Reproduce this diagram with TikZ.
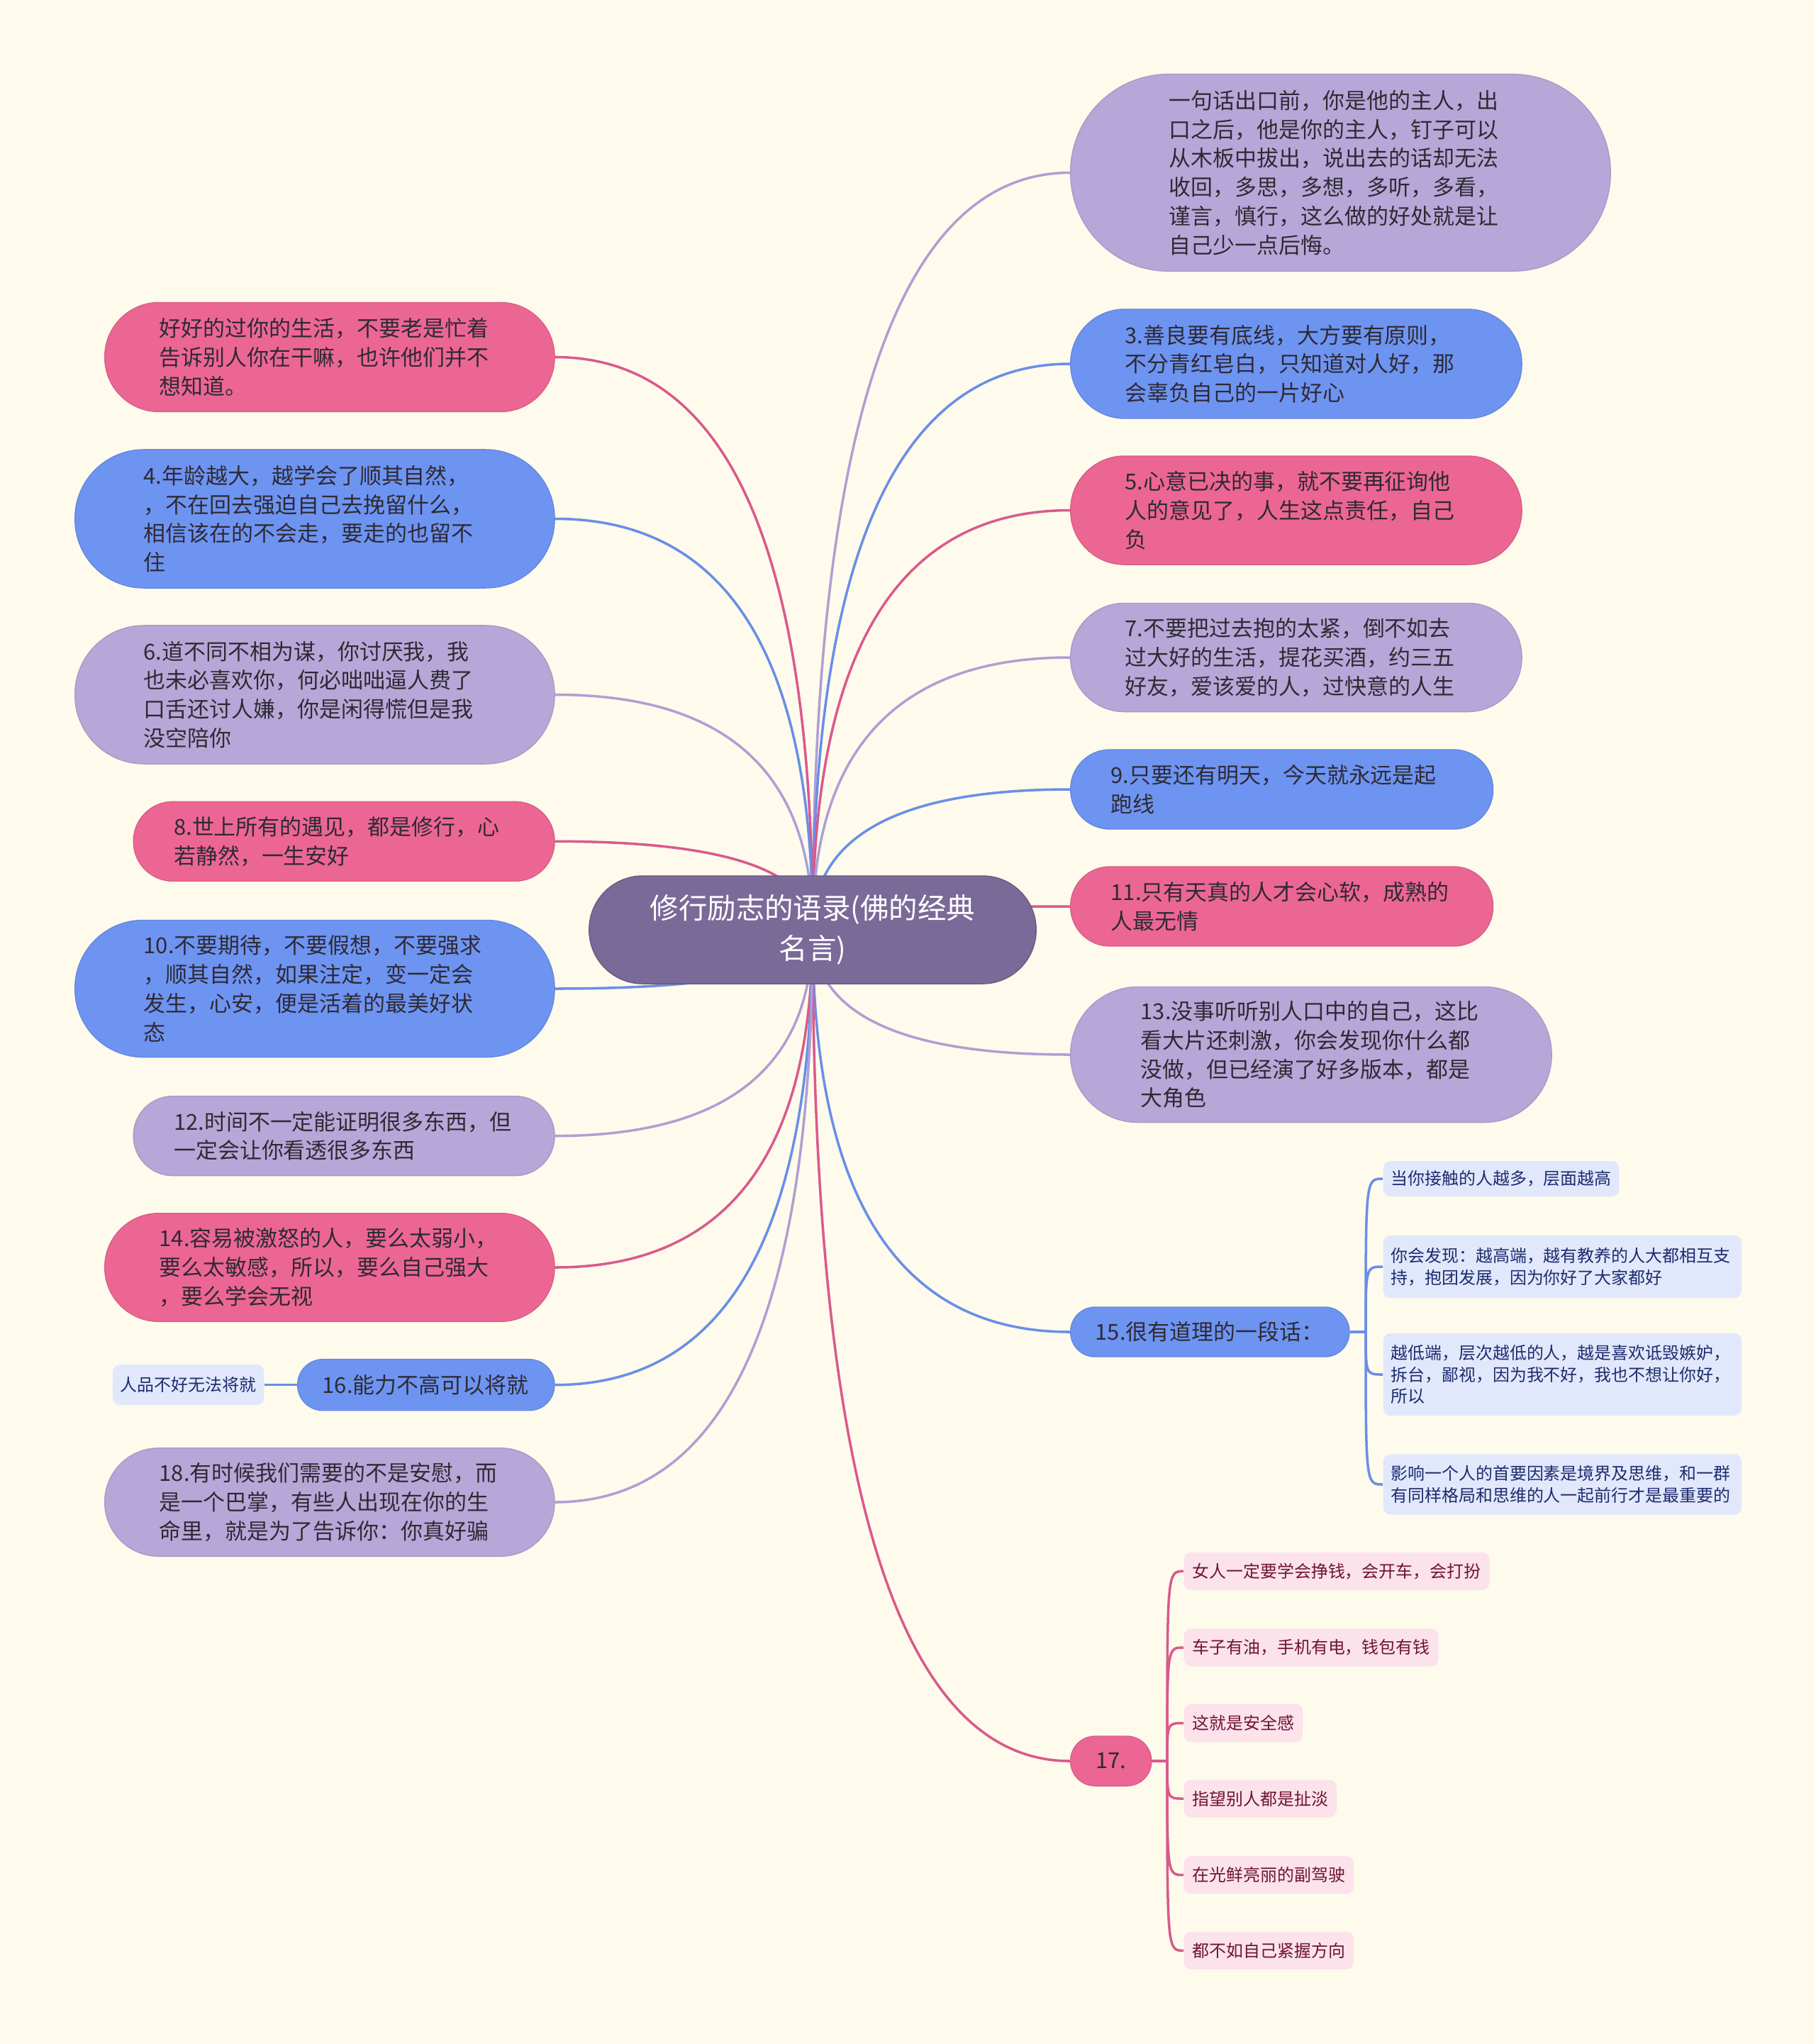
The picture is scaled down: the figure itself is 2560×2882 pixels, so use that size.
\documentclass[tikz,border=0pt]{standalone}
\usepackage{fontspec}
\setmainfont{Noto Sans CJK SC}
\usetikzlibrary{calc}
\definecolor{bgc}{HTML}{FFFBEC}
\definecolor{pinkc}{HTML}{EC6694}
\definecolor{bluec}{HTML}{6E94F2}
\definecolor{lavc}{HTML}{B7A7D8}
\definecolor{ctrc}{HTML}{7A6A98}
\definecolor{pinkl}{HTML}{D95A8C}
\definecolor{bluel}{HTML}{6A8EE8}
\definecolor{lavl}{HTML}{AE9FD3}
\definecolor{txtc}{HTML}{2E2A33}
\definecolor{cfill}{HTML}{E1E8FB}
\definecolor{ctext}{HTML}{1E2C6E}
\definecolor{dfill}{HTML}{FBE2EB}
\definecolor{dtext}{HTML}{6E1434}
\newcommand{\fmainsz}{\fontsize{8.8pt}{11.6pt}\selectfont}
\newcommand{\fctrsz}{\fontsize{11.5pt}{16.2pt}\selectfont}
\newcommand{\fsubsz}{\fontsize{6.8pt}{8.7pt}\selectfont}
\pgfdeclarelayer{back}
\pgfdeclarelayer{lines}
\pgfsetlayers{back,lines,main}
\tikzset{
  mainnode/.style={rectangle, inner ysep=0pt, align=left, text=txtc, font=\fmainsz, anchor=west, line width=0.4pt},
  pinkn/.style={mainnode, fill=pinkc, draw=pinkc!92!black},
  bluen/.style={mainnode, fill=bluec, draw=bluec!92!black},
  lavn/.style={mainnode, fill=lavc, draw=lavc!92!black},
  ctrnode/.style={rectangle, fill=ctrc, draw=ctrc!85!black, line width=0.4pt, text=white, font=\fctrsz, align=center, minimum width=6.30cm, minimum height=1.52cm, rounded corners=0.755cm, inner sep=0pt},
  cnode/.style={rectangle, fill=cfill, text=ctext, font=\fsubsz, rounded corners=0.1cm, anchor=west, inner xsep=0.11cm, inner ysep=0pt, align=left},
  dnode/.style={rectangle, fill=dfill, text=dtext, font=\fsubsz, rounded corners=0.1cm, anchor=west, inner xsep=0.12cm, inner ysep=0pt, minimum height=0.53cm},
  conn/.style={line width=1pt},
  qc/.style={to path={.. controls ($(\tikztostart)!0.6667!(\tikztostart |- \tikztotarget)$) and ($(\tikztotarget)!0.6667!(\tikztostart |- \tikztotarget)$) .. (\tikztotarget)}},
  bc/.style={to path={.. controls (\tikztostart |- \tikztotarget) .. (\tikztotarget)}}
}
\begin{document}
\begin{tikzpicture}[x=0.01cm, y=-0.01cm]
\useasboundingbox (0,0) rectangle (2560,2882);
\begin{pgfonlayer}{back}
\fill[bgc] (0,0) rectangle (2560,2882);
\end{pgfonlayer}

% central node
\node[ctrnode] (ctr) at (1146,1311) {修行励志的语录(佛的经典\\名言)};

% right side
\node[lavn, minimum width=7.61cm, minimum height=2.775cm, text width=4.83cm, inner xsep=1.39cm, rounded corners=1.38cm] (R1) at (1509,243.5)
 {一句话出口前，你是他的主人，出\\口之后，他是你的主人，钉子可以\\从木板中拔出，说出去的话却无法\\收回，多思，多想，多听，多看，\\谨言，慎行，这么做的好处就是让\\自己少一点后悔。};
\node[bluen, minimum width=6.36cm, minimum height=1.54cm, text width=4.82cm, inner xsep=0.77cm, rounded corners=0.765cm] (R2) at (1509,513)
 {3.善良要有底线，大方要有原则，\\不分青红皂白，只知道对人好，那\\会辜负自己的一片好心};
\node[pinkn, minimum width=6.36cm, minimum height=1.53cm, text width=4.82cm, inner xsep=0.77cm, rounded corners=0.76cm] (R3) at (1509,719.5)
 {5.心意已决的事，就不要再征询他\\人的意见了，人生这点责任，自己\\负};
\node[lavn, minimum width=6.36cm, minimum height=1.53cm, text width=4.82cm, inner xsep=0.77cm, rounded corners=0.76cm] (R4) at (1509,927)
 {7.不要把过去抱的太紧，倒不如去\\过大好的生活，提花买酒，约三五\\好友，爱该爱的人，过快意的人生};
\node[bluen, minimum width=5.955cm, minimum height=1.12cm, text width=4.815cm, inner xsep=0.57cm, rounded corners=0.555cm] (R5) at (1509,1113)
 {9.只要还有明天，今天就永远是起\\跑线};
\node[pinkn, minimum width=5.955cm, minimum height=1.12cm, text width=4.815cm, inner xsep=0.57cm, rounded corners=0.555cm] (R6) at (1509,1278)
 {11.只有天真的人才会心软，成熟的\\人最无情};
\node[lavn, minimum width=6.78cm, minimum height=1.91cm, text width=4.80cm, inner xsep=0.99cm, rounded corners=0.95cm] (R7) at (1509,1487)
 {13.没事听听别人口中的自己，这比\\看大片还刺激，你会发现你什么都\\没做，但已经演了好多版本，都是\\大角色};
\node[bluen, minimum width=3.93cm, minimum height=0.70cm, text width=3.23cm, inner xsep=0.35cm, rounded corners=0.345cm] (R8) at (1509,1878)
 {15.很有道理的一段话：};
\node[pinkn, align=center, minimum width=1.14cm, minimum height=0.70cm, inner xsep=0pt, rounded corners=0.345cm] (R9) at (1509,2483) {17.};

% left side
\node[pinkn, minimum width=6.34cm, minimum height=1.54cm, text width=4.80cm, inner xsep=0.77cm, rounded corners=0.765cm] (L1) at (147,503.5)
 {好好的过你的生活，不要老是忙着\\告诉别人你在干嘛，也许他们并不\\想知道。};
\node[bluen, minimum width=6.76cm, minimum height=1.95cm, text width=4.82cm, inner xsep=0.97cm, rounded corners=0.97cm] (L2) at (105,731.5)
 {4.年龄越大，越学会了顺其自然，\\，不在回去强迫自己去挽留什么，\\相信该在的不会走，要走的也留不\\住};
\node[lavn, minimum width=6.76cm, minimum height=1.95cm, text width=4.82cm, inner xsep=0.97cm, rounded corners=0.97cm] (L3) at (105,979.5)
 {6.道不同不相为谋，你讨厌我，我\\也未必喜欢你，何必咄咄逼人费了\\口舌还讨人嫌，你是闲得慌但是我\\没空陪你};
\node[pinkn, minimum width=5.935cm, minimum height=1.12cm, text width=4.795cm, inner xsep=0.57cm, rounded corners=0.555cm] (L4) at (187.5,1186.3)
 {8.世上所有的遇见，都是修行，心\\若静然，一生安好};
\node[bluen, minimum width=6.76cm, minimum height=1.93cm, text width=4.82cm, inner xsep=0.97cm, rounded corners=0.96cm] (L5) at (105,1394)
 {10.不要期待，不要假想，不要强求\\，顺其自然，如果注定，变一定会\\发生，心安，便是活着的最美好状\\态};
\node[lavn, minimum width=5.935cm, minimum height=1.12cm, text width=4.795cm, inner xsep=0.57cm, rounded corners=0.555cm] (L6) at (187.5,1601.6)
 {12.时间不一定能证明很多东西，但\\一定会让你看透很多东西};
\node[pinkn, minimum width=6.34cm, minimum height=1.525cm, text width=4.80cm, inner xsep=0.77cm, rounded corners=0.76cm] (L7) at (147,1787)
 {14.容易被激怒的人，要么太弱小，\\要么太敏感，所以，要么自己强大\\，要么学会无视};
\node[bluen, minimum width=3.62cm, minimum height=0.72cm, text width=2.92cm, inner xsep=0.35cm, rounded corners=0.355cm] (L8) at (419,1952.7)
 {16.能力不高可以将就};
\node[cnode, anchor=east, minimum height=0.57cm] (L8c) at (373,1952.7) {人品不好无法将就};
\node[lavn, minimum width=6.34cm, minimum height=1.525cm, text width=4.80cm, inner xsep=0.77cm, rounded corners=0.76cm] (L9) at (147,2118)
 {18.有时候我们需要的不是安慰，而\\是一个巴掌，有些人出现在你的生\\命里，就是为了告诉你：你真好骗};

% children of 15
\node[cnode, minimum height=0.50cm] (c1) at (1950,1662) {当你接触的人越多，层面越高};
\node[cnode, minimum height=0.88cm, text width=4.83cm] (c2) at (1950,1786)
 {你会发现：越高端，越有教养的人大都相互支\\持，抱团发展，因为你好了大家都好};
\node[cnode, minimum height=1.16cm, text width=4.83cm] (c3) at (1950,1938)
 {越低端，层次越低的人，越是喜欢诋毁嫉妒，\\拆台，鄙视，因为我不好，我也不想让你好，\\所以};
\node[cnode, minimum height=0.85cm, text width=4.83cm] (c4) at (1950,2093)
 {影响一个人的首要因素是境界及思维，和一群\\有同样格局和思维的人一起前行才是最重要的};

% children of 17
\node[dnode] (d1) at (1669,2215.4) {女人一定要学会挣钱，会开车，会打扮};
\node[dnode] (d2) at (1669,2323) {车子有油，手机有电，钱包有钱};
\node[dnode] (d3) at (1669,2429.5) {这就是安全感};
\node[dnode] (d4) at (1669,2536) {指望别人都是扯淡};
\node[dnode] (d5) at (1669,2643.7) {在光鲜亮丽的副驾驶};
\node[dnode] (d6) at (1669,2750.3) {都不如自己紧握方向};

\coordinate (J1) at (1926,1878);
\coordinate (J2) at (1646,2483);

\begin{pgfonlayer}{lines}
% center to right
\draw[conn, lavl]  (ctr.center) to[qc] (R1.west);
\draw[conn, bluel] (ctr.center) to[qc] (R2.west);
\draw[conn, pinkl] (ctr.center) to[qc] (R3.west);
\draw[conn, lavl]  (ctr.center) to[qc] (R4.west);
\draw[conn, bluel] (ctr.center) to[qc] (R5.west);
\draw[conn, pinkl] (ctr.center) to[qc] (R6.west);
\draw[conn, lavl]  (ctr.center) to[qc] (R7.west);
\draw[conn, bluel] (ctr.center) to[qc] (R8.west);
\draw[conn, pinkl] (ctr.center) to[qc] (R9.west);
% center to left
\draw[conn, pinkl] (ctr.center) to[qc] (L1.east);
\draw[conn, bluel] (ctr.center) to[qc] (L2.east);
\draw[conn, lavl]  (ctr.center) to[qc] (L3.east);
\draw[conn, pinkl] (ctr.center) to[qc] (L4.east);
\draw[conn, bluel] (ctr.center) to[qc] (L5.east);
\draw[conn, lavl]  (ctr.center) to[qc] (L6.east);
\draw[conn, pinkl] (ctr.center) to[qc] (L7.east);
\draw[conn, bluel] (ctr.center) to[qc] (L8.east);
\draw[conn, lavl]  (ctr.center) to[qc] (L9.east);
% sub branches
\draw[conn, bluel] (L8.west) -- (L8c.east);
\draw[conn, bluel] (R8.east) -- (J1);
\foreach \c in {c1,c2,c3,c4}{\draw[conn, bluel] (J1) to[bc] (\c.west);}
\draw[conn, pinkl] (R9.east) -- (J2);
\foreach \d in {d1,d2,d3,d4,d5,d6}{\draw[conn, pinkl] (J2) to[bc] (\d.west);}
\end{pgfonlayer}
\end{tikzpicture}
\end{document}
